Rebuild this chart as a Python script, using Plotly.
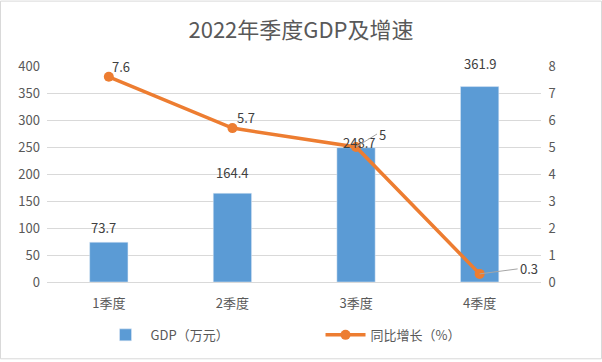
import plotly.graph_objects as go
from plotly.subplots import make_subplots

categories = ["1季度", "2季度", "3季度", "4季度"]
gdp = [73.7, 164.4, 248.7, 361.9]
growth = [7.6, 5.7, 5.0, 0.3]
growth_text = ["7.6", "5.7", "5", "0.3"]
gdp_text = ["73.7", "164.4", "248.7", "361.9"]
left_ticks = [0, 50, 100, 150, 200, 250, 300, 350, 400]
right_ticks = [0, 1, 2, 3, 4, 5, 6, 7, 8]

# label placement styles (pixel offsets)
gdp_label_dy = [11, 17, 2, 20]
gdp_label_dx = [-5, 0, 3, 0]
growth_label_dx = [12, 14, 21, 38]
growth_label_dy = [-10, -11, -13, -5]
growth_leader = [False, False, True, True]

BLUE = "#5B9BD5"
ORANGE = "#ED7D31"
TXT = "#595959"
GRID = "#D9D9D9"
FONT = "Noto Sans CJK SC, Noto Sans, sans-serif"

fig = make_subplots(specs=[[{"secondary_y": True}]])
fig.add_trace(go.Bar(x=categories, y=gdp, name="GDP（万元）", marker_color=BLUE,
                     width=0.31, hoverinfo="x+y"), secondary_y=False)
fig.add_trace(go.Scatter(x=categories, y=growth, name="同比增长（%）", mode="lines+markers",
                         line=dict(color=ORANGE, width=3.5),
                         marker=dict(color=ORANGE, size=10)), secondary_y=True)

annotations = []
for i, c in enumerate(categories):
    annotations.append(dict(x=c, y=gdp[i], xref="x", yref="y", text=gdp_text[i],
                            showarrow=False, yanchor="bottom", yshift=gdp_label_dy[i] - 8,
                            xshift=gdp_label_dx[i], font=dict(size=13, color="#404040", family=FONT)))
    if growth_leader[i]:
        annotations.append(dict(x=c, y=growth[i], xref="x", yref="y2", text=growth_text[i],
                                showarrow=True, arrowhead=0, arrowwidth=1, arrowcolor="#A6A6A6",
                                ax=growth_label_dx[i], ay=growth_label_dy[i], standoff=0,
                                xanchor="left", font=dict(size=13, color="#404040", family=FONT)))
    else:
        annotations.append(dict(x=c, y=growth[i], xref="x", yref="y2", text=growth_text[i],
                                showarrow=False, xshift=growth_label_dx[i], yshift=-growth_label_dy[i],
                                font=dict(size=13, color="#404040", family=FONT)))

fig.update_layout(
    width=602, height=362,
    margin=dict(l=47, r=29, t=66, b=78),
    paper_bgcolor="white", plot_bgcolor="white",
    font=dict(family=FONT, color=TXT, size=12),
    title=dict(text="2022年季度GDP及增速", x=0.5, xanchor="center", y=0.915, yanchor="middle",
               font=dict(size=22, color=TXT, family=FONT)),
    showlegend=True,
    legend=dict(orientation="h", x=0.52, xanchor="center", y=-0.245, yanchor="middle",
                font=dict(size=13, color=TXT, family=FONT), itemwidth=40, entrywidth=165),
    annotations=annotations,
    shapes=[dict(type="rect", xref="paper", yref="paper",
                 x0=-46.5 / 526, x1=1 + 28.5 / 526, y0=-77.5 / 218, y1=1 + 65.5 / 218,
                 line=dict(color="#D9D9D9", width=1), fillcolor="rgba(0,0,0,0)")],
)
fig.update_xaxes(showgrid=False, showline=True, linecolor=GRID, ticks="", automargin=False,
                 tickfont=dict(size=13, color=TXT), ticklabelstandoff=9)
fig.update_yaxes(range=[0, 400], tickvals=left_ticks, gridcolor=GRID, showline=False,
                 zeroline=False, tickfont=dict(size=13, color=TXT), ticklabelstandoff=6,
                 automargin=False, secondary_y=False)
fig.update_yaxes(range=[0, 8], tickvals=right_ticks, showgrid=False, showline=False,
                 zeroline=False, tickfont=dict(size=13, color=TXT), ticklabelstandoff=6,
                 automargin=False, secondary_y=True)

fig.write_html("out.html", config={"displayModeBar": False},
               post_script="document.body.style.margin='0';document.body.style.overflow='hidden';")
